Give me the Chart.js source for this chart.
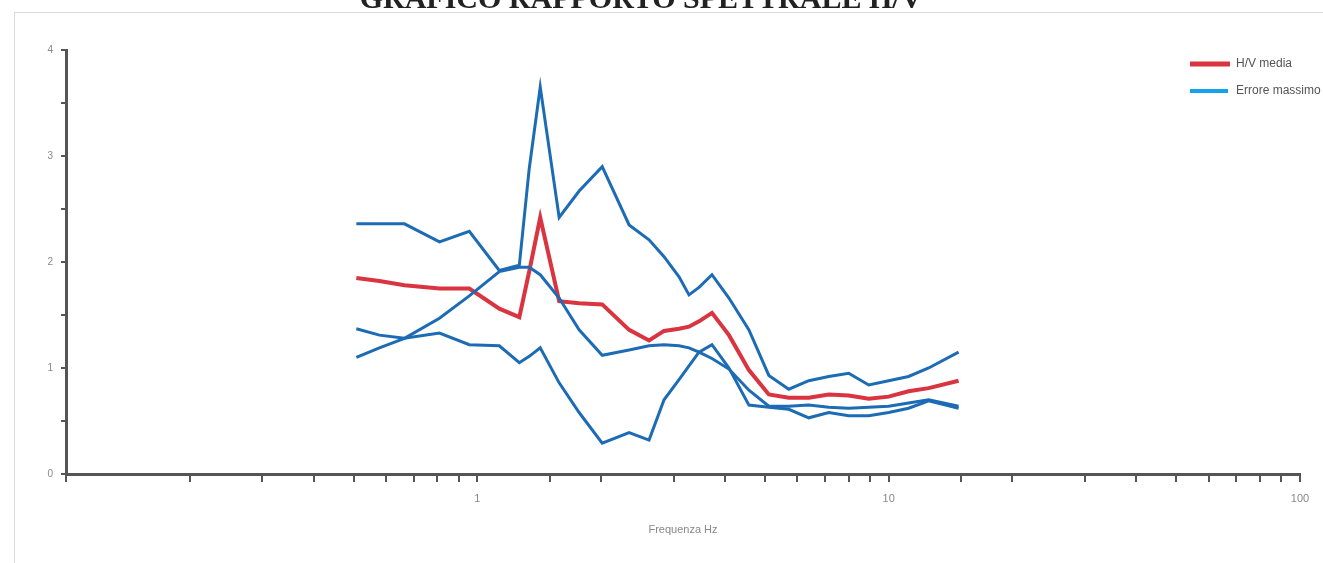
<!DOCTYPE html>
<html>
<head>
<meta charset="utf-8">
<title>Grafico rapporto spettrale H/V</title>
<script src="https://cdn.jsdelivr.net/npm/chart.js@4/dist/chart.umd.min.js"></script>
<style>
  html, body { margin: 0; padding: 0; background: #ffffff; overflow: hidden; }
  #wrap { position: relative; width: 1323px; height: 563px; }
  canvas { display: block; }
</style>
</head>
<body>
<div id="wrap"><canvas id="hv" width="1323" height="563"></canvas></div>
<script>
// Frequenze (Hz)
const freqHz = [0.508, 0.578, 0.665, 0.809, 0.956, 1.131, 1.265, 1.337, 1.422, 1.581,
  1.768, 2.012, 2.339, 2.615, 2.844, 3.093, 3.27, 3.459, 3.719, 4.09,
  4.574, 5.113, 5.718, 6.394, 7.152, 7.997, 8.943, 10.0, 11.18, 12.51, 14.79];

// Rapporto H/V medio
const hvMedia = [1.85, 1.82, 1.78, 1.75, 1.75, 1.56, 1.48, 1.91, 2.42, 1.63,
  1.61, 1.60, 1.36, 1.26, 1.35, 1.37, 1.39, 1.44, 1.52, 1.31,
  0.98, 0.75, 0.72, 0.72, 0.75, 0.74, 0.71, 0.73, 0.78, 0.81, 0.88];

// Curve di errore
const errUpper = [2.36, 2.36, 2.36, 2.19, 2.29, 1.92, 1.97, 2.88, 3.65, 2.42,
  2.67, 2.90, 2.35, 2.21, 2.05, 1.86, 1.69, 1.76, 1.88, 1.66,
  1.36, 0.93, 0.80, 0.88, 0.92, 0.95, 0.84, 0.88, 0.92, 1.00, 1.15];
const errLower = [1.37, 1.31, 1.28, 1.33, 1.22, 1.21, 1.05, 1.11, 1.19, 0.86,
  0.58, 0.29, 0.39, 0.32, 0.70, 0.89, 1.02, 1.15, 1.22, 1.00,
  0.65, 0.63, 0.61, 0.53, 0.58, 0.55, 0.55, 0.58, 0.62, 0.69, 0.62];
const errAlt = [1.10, 1.19, 1.28, 1.47, 1.68, 1.91, 1.95, 1.95, 1.88, 1.66,
  1.36, 1.12, 1.17, 1.21, 1.22, 1.21, 1.19, 1.15, 1.09, 0.99,
  0.79, 0.64, 0.64, 0.65, 0.63, 0.62, 0.63, 0.64, 0.67, 0.70, 0.64];

// Testi
const chartTitle = 'GRAFICO RAPPORTO SPETTRALE H/V';
const xAxisTitle = 'Frequenza Hz';
const legendLabels = ['H/V media', 'Errore massimo'];
const xTickLabels = { 1: '1', 10: '10', 100: '100' };
const yTickLabels = { 0: '0', 1: '1', 2: '2', 3: '3', 4: '4' };

const RED = '#d9343f';
const BLUE = '#1c6cb5';
const LEGEND_BLUE = '#16a2ea';
const AXIS = '#555555';

const toPoints = vals => vals.map((v, i) => ({ x: freqHz[i], y: v }));

// Cornice, titolo e legenda disegnati sul canvas
const decorations = {
  id: 'decorations',
  beforeDraw(chart) {
    const ctx = chart.ctx;
    ctx.save();
    ctx.fillStyle = '#ffffff';
    ctx.fillRect(0, 0, chart.width, chart.height);
    ctx.strokeStyle = '#d9d9d9';
    ctx.lineWidth = 1;
    ctx.strokeRect(14.5, 12.5, chart.width + 10, chart.height + 10);
    ctx.restore();
  },
  afterDraw(chart) {
    const ctx = chart.ctx;
    ctx.save();
    ctx.fillStyle = '#222222';
    ctx.font = 'bold 30px "Liberation Serif", "DejaVu Serif", serif';
    ctx.textAlign = 'center';
    ctx.textBaseline = 'alphabetic';
    ctx.fillText(chartTitle, 641, 8);

    ctx.lineCap = 'butt';
    ctx.strokeStyle = RED;
    ctx.lineWidth = 5;
    ctx.beginPath(); ctx.moveTo(1190, 64); ctx.lineTo(1230, 64); ctx.stroke();
    ctx.strokeStyle = LEGEND_BLUE;
    ctx.lineWidth = 4;
    ctx.beginPath(); ctx.moveTo(1190, 91); ctx.lineTo(1228, 91); ctx.stroke();

    ctx.fillStyle = '#555555';
    ctx.font = '12px "Liberation Sans", Arial, sans-serif';
    ctx.textAlign = 'left';
    ctx.textBaseline = 'middle';
    ctx.fillText(legendLabels[0], 1236, 64);
    ctx.fillText(legendLabels[1], 1236, 91);
    ctx.restore();
  }
};

const lineStyle = (color, width) => ({
  borderColor: color,
  backgroundColor: color,
  borderWidth: width,
  pointRadius: 0,
  pointHoverRadius: 0,
  tension: 0,
  fill: false
});

new Chart(document.getElementById('hv'), {
  type: 'line',
  data: {
    datasets: [
      Object.assign({ label: legendLabels[0], data: toPoints(hvMedia), order: 1 }, lineStyle(RED, 4)),
      Object.assign({ label: legendLabels[1], data: toPoints(errUpper), order: 0 }, lineStyle(BLUE, 3)),
      Object.assign({ label: legendLabels[1] + ' inf', data: toPoints(errLower), order: 0 }, lineStyle(BLUE, 3)),
      Object.assign({ label: legendLabels[1] + ' alt', data: toPoints(errAlt), order: 0 }, lineStyle(BLUE, 3))
    ]
  },
  options: {
    responsive: false,
    animation: false,
    layout: { padding: { left: 0, right: 23, top: 50, bottom: 0 } },
    plugins: {
      legend: { display: false },
      title: { display: false },
      tooltip: { enabled: false }
    },
    scales: {
      x: {
        type: 'logarithmic',
        min: 0.1,
        max: 100,
        border: { display: true, color: AXIS, width: 3 },
        grid: { display: true, drawOnChartArea: false, drawTicks: true, tickLength: 8, color: AXIS, lineWidth: 2 },
        ticks: {
          autoSkip: false,
          maxRotation: 0,
          minRotation: 0,
          padding: 10,
          color: '#888888',
          font: { family: '"Liberation Sans", Arial, sans-serif', size: 11 },
          callback: (value) => xTickLabels[Math.round(value * 1000) / 1000] || ''
        },
        title: {
          display: true,
          text: xAxisTitle,
          color: '#888888',
          font: { family: '"Liberation Sans", Arial, sans-serif', size: 11 },
          padding: { top: 4, bottom: 26 }
        },
        afterFit: (scale) => { scale.height = 89; }
      },
      y: {
        type: 'linear',
        min: 0,
        max: 4,
        border: { display: true, color: AXIS, width: 3 },
        grid: { display: true, drawOnChartArea: false, drawTicks: true, tickLength: 5, color: AXIS, lineWidth: 2 },
        ticks: {
          stepSize: 0.5,
          autoSkip: false,
          padding: 8,
          color: '#888888',
          font: { family: '"Liberation Sans", Arial, sans-serif', size: 10 },
          callback: (value) => (yTickLabels[value] !== undefined ? yTickLabels[value] : '')
        },
        afterFit: (scale) => { scale.width = 66; }
      }
    }
  },
  plugins: [decorations]
});
</script>
</body>
</html>
